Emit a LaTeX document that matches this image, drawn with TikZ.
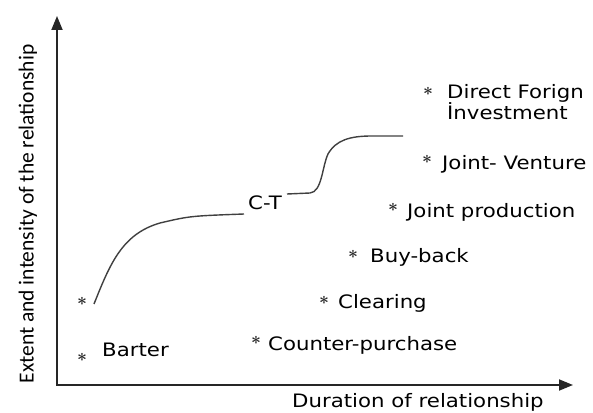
\documentclass[tikz,border=0pt]{standalone}
\usepackage{fontspec}
\newfontfamily\lblfont[FakeStretch=1.15]{DejaVu Sans}
\newfontfamily\axfont{Carlito}
\usetikzlibrary{arrows.meta}

\begin{document}
\begin{tikzpicture}[x=1pt, y=1pt,
    axis/.style={line width=1.8pt, draw=black!85,
                 {Triangle[length=14pt, width=11pt]}-{Triangle[length=14pt, width=11pt]}},
    curve/.style={line width=1.4pt, draw=black!75},
    pt/.style={inner sep=0pt, text=black!85, font=\fontsize{19}{19}\selectfont\boldmath},
    lbl/.style={anchor=base west, inner sep=0pt, font=\lblfont\fontsize{18.5}{21}\selectfont}
  ]
  \useasboundingbox (0,0) rectangle (593,412);

  % axes
  \coordinate (o)    at (57,27);
  \coordinate (ytop) at (57,396);
  \coordinate (xend) at (573,27);
  \draw[axis] (ytop) -- (o) -- (xend);
  \node[rotate=90, font=\axfont\fontsize{21.5}{21.5}\selectfont] (ylab) at (28,198)
    {Extent and intensity of the relationship};
  \node[lbl] (xlab) at (292,5) {Duration of relationship};

  % forms of trade
  \node[pt] (s0)  at (82,111) {$\ast$};
  \node[pt] (s1)  at (82,55)  {$\ast$};
  \node[pt] (s2)  at (256,72) {$\ast$};
  \node[pt] (s3)  at (324,112) {$\ast$};
  \node[pt] (s4)  at (353,158) {$\ast$};
  \node[pt] (s5)  at (393,205) {$\ast$};
  \node[pt] (s6)  at (427,253) {$\ast$};
  \node[pt] (s7)  at (428,321) {$\ast$};

  \node[lbl] (barter)   at (102,56)  {Barter};
  \node[lbl] (counter)  at (268,62)  {Counter-purchase};
  \node[lbl] (clearing) at (338,103) {Clearing};
  \node[lbl] (buyback)  at (370,149) {Buy-back};
  \node[lbl] (jointp)   at (407,194) {Joint production};
  \node[lbl] (jv)       at (442,242) {Joint- Venture};
  \node[lbl, anchor=north west, align=left] (dfi) at (447,328)
    {Direct Forign\\İnvestment};

  % C-T curve
  \node[lbl] (ct) at (248,202) {C-T};
  \draw[curve] (94,108) .. controls (110,148) and (122,178) .. (160,189)
               .. controls (190,196) .. (244,198);
  \draw[curve] (287,218) -- (310,219) .. controls (322,220) and (322,245) .. (328,258)
               .. controls (336,272) and (350,276) .. (372,276) -- (403,276);
\end{tikzpicture}
\end{document}
